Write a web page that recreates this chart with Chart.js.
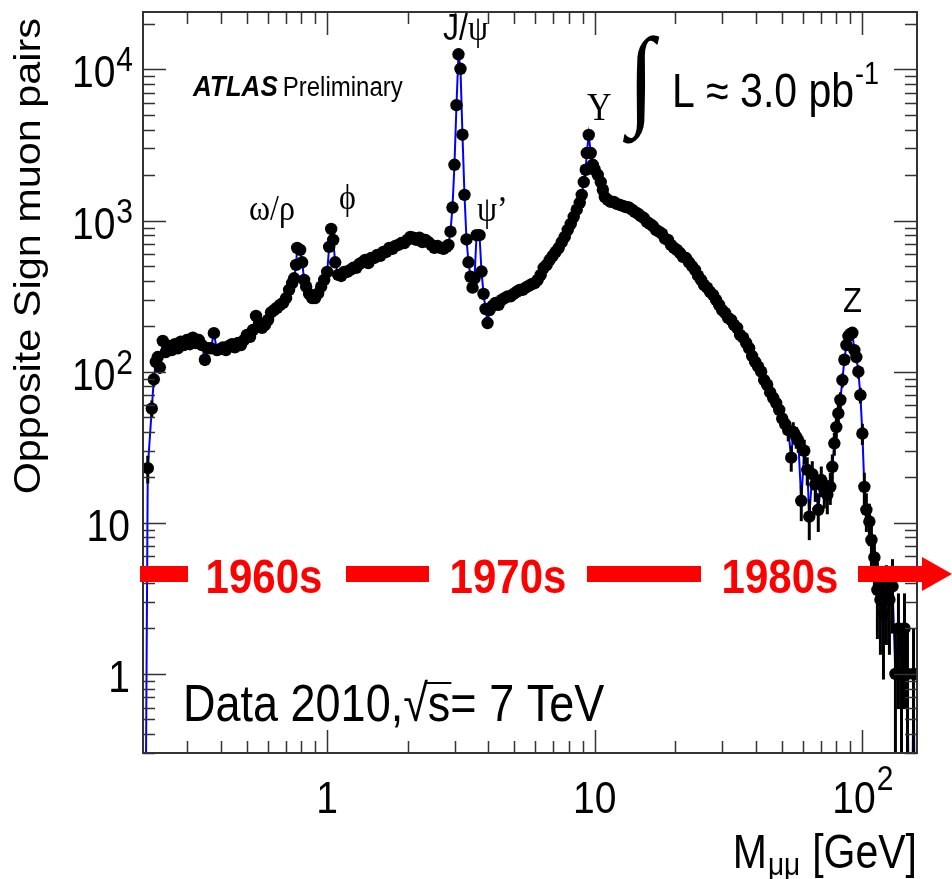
<!DOCTYPE html>
<html>
<head>
<meta charset="utf-8">
<script src="https://cdn.jsdelivr.net/npm/chart.js@4.4.0/dist/chart.umd.min.js"></script>
<style>
  html, body { margin: 0; padding: 0; background: #fff; }
  canvas { display: block; }
</style>
</head>
<body>
<canvas id="massChart" width="952" height="879"></canvas>
<script>
// Dimuon invariant mass bins [GeV]
const massBins = [
  0.208, 0.2136, 0.2211, 0.2250, 0.2289, 0.2328, 0.2369, 0.2430, 0.2495, 0.2560,
  0.2627, 0.2696, 0.2766, 0.2839, 0.2913, 0.2990, 0.3068, 0.3148, 0.3231, 0.3316,
  0.3403, 0.3492, 0.3583, 0.3677, 0.3773, 0.3873, 0.3974, 0.4078, 0.4185, 0.4295,
  0.4407, 0.4523, 0.4642, 0.4763, 0.4888, 0.5016, 0.5148, 0.5283, 0.5421, 0.5564,
  0.5709, 0.5859, 0.6013, 0.6170, 0.6332, 0.6498, 0.6668, 0.6843, 0.7023, 0.7207,
  0.7396, 0.7524, 0.7655, 0.7722, 0.7924, 0.8062, 0.8202, 0.8345, 0.8564, 0.8787,
  0.9017, 0.9253, 0.9495, 0.9745, 1.000, 1.0174, 1.0351, 1.0531, 1.0714, 1.0995,
  1.1283, 1.1579, 1.1882, 1.2194, 1.2514, 1.2842, 1.3178, 1.3524, 1.3878, 1.4242,
  1.4616, 1.4999, 1.5392, 1.5795, 1.6209, 1.6634, 1.7070, 1.7518, 1.7977, 1.8448,
  1.8931, 1.9428, 1.9937, 2.0459, 2.0996, 2.1544, 2.2110, 2.2690, 2.3280, 2.3890,
  2.4520, 2.5160, 2.5820, 2.6500, 2.7190, 2.7910, 2.8390, 2.8890, 2.9390, 2.9900,
  3.0420, 3.0950, 3.1490, 3.2030, 3.2590, 3.3160, 3.3740, 3.4330, 3.4930, 3.5530,
  3.6150, 3.7090, 3.7740, 3.8400, 3.9070, 3.9750, 4.0440, 4.1490, 4.2580, 4.3690,
  4.4840, 4.6010, 4.7220, 4.8450, 4.9720, 5.1040, 5.2380, 5.3760, 5.5170, 5.6610,
  5.8080, 5.9610, 6.1170, 6.2790, 6.4430, 6.6110, 6.7850, 6.9630, 7.1440, 7.3320,
  7.5240, 7.7210, 7.9240, 8.1310, 8.3430, 8.5620, 8.7860, 8.9390, 9.0950, 9.2530,
  9.3330, 9.4950, 9.6610, 9.8290, 10.00, 10.26, 10.53, 10.72, 10.90, 11.19,
  11.48, 11.78, 12.09, 12.41, 12.73, 13.07, 13.41, 13.76, 14.12, 14.49,
  14.87, 15.26, 15.66, 16.07, 16.49, 16.93, 17.37, 17.82, 18.29, 18.77,
  19.26, 19.77, 20.28, 20.82, 21.36, 21.92, 22.50, 23.08, 23.69, 24.31,
  24.95, 25.60, 26.27, 26.96, 27.67, 28.39, 29.14, 29.90, 30.68, 31.49,
  32.31, 33.16, 34.03, 34.92, 35.84, 36.78, 37.74, 38.73, 39.75, 40.79,
  41.86, 42.95, 44.08, 45.24, 46.42, 47.64, 48.89, 50.17, 51.49, 52.84,
  54.22, 55.17, 56.61, 57.60, 59.11, 60.66, 62.24, 63.33, 64.99, 66.68,
  68.43, 70.22, 72.06, 73.95, 75.88, 77.21, 78.56, 79.93, 81.32, 82.74,
  84.19, 85.65, 87.15, 88.67, 90.22, 91.73, 93.32, 94.95, 96.60, 98.29,
  100.0, 101.7, 103.5, 106.2, 108.1, 110.9, 113.8, 116.8, 119.9, 123.0,
  126.2, 129.6, 132.9, 136.4, 140.0, 143.7, 147.4, 151.3, 155.3, 159.3
];

// Opposite-sign muon pairs per bin (0.01 = empty bin, below the axis)
const muonPairs = [
  0.01, 23, 57, 89, 116, 125, 107, 160, 135, 148,
  139, 152, 143, 158, 150, 162, 152, 168, 155, 162,
  150, 120, 143, 143, 180, 139, 141, 145, 139, 148,
  152, 145, 155, 150, 162, 175, 170, 189, 234, 210,
  195, 204, 220, 247, 256, 265, 277, 285, 307, 348,
  385, 415, 509, 660, 640, 530, 405, 365, 327, 307,
  307, 330, 365, 405, 458, 670, 880, 745, 530, 437,
  430, 458, 458, 472, 487, 487, 516, 530, 549, 523,
  566, 566, 593, 585, 620, 620, 660, 650, 680, 690,
  710, 710, 745, 780, 770, 745, 770, 720, 745, 720,
  690, 660, 680, 660, 650, 670, 690, 845, 1220, 2340,
  5800, 12600, 10100, 3700, 1480, 750, 530, 425, 360, 415,
  800, 800, 460, 327, 260, 210, 256, 273, 285, 277,
  299, 307, 315, 315, 327, 338, 348, 348, 360, 370,
  380, 385, 405, 437, 487, 509, 549, 585, 620, 660,
  720, 780, 867, 950, 1060, 1180, 1310, 1480, 1800, 2170,
  2800, 3690, 2800, 2340, 2170, 2010, 1800, 1600, 1430, 1370,
  1330, 1330, 1290, 1270, 1250, 1230, 1220, 1180, 1140, 1110,
  1070, 1040, 980, 950, 920, 867, 845, 820, 760, 745,
  690, 660, 640, 610, 575, 565, 530, 500, 472, 432,
  405, 375, 360, 338, 322, 299, 277, 256, 245, 227,
  220, 204, 195, 175, 168, 155, 143, 127, 116, 108,
  100, 88, 82, 73, 67, 62, 56, 49, 45, 41,
  27, 40, 37, 35, 14, 30, 22.4, 11, 21, 18,
  12.2, 19.2, 16.5, 15.3, 17.3, 23.5, 33.6, 43, 53, 65,
  88, 120, 150, 172, 178, 181, 139, 125, 100, 70,
  39, 17.3, 12.2, 10.2, 7.7, 5.9, 3.6, 3.1, 2.5, 3.4,
  3.1, 3.8, 1.0, 2.0, 1.0, 2.0, 1.0, 0.01, 1.0, 0.01
];

// Labelled decades on each axis: [value, mantissa text, exponent text]
const xTickLabels = [[1, '1', ''], [10, '10', ''], [100, '10', '2']];
const yTickLabels = [[1, '1', ''], [10, '10', ''], [100, '10', '2'], [1000, '10', '3'], [10000, '10', '4']];
const eraLabels = ['1960s', '1970s', '1980s'];

const X_MIN = 0.205, X_MAX = 160;
const Y_MIN = 0.3, Y_MAX = 24000;
const STRETCH = 1.15;
const SANS = "'Liberation Sans', Arial, sans-serif";
const SERIF = "'Liberation Serif', 'Times New Roman', serif";

// text drawn slightly taller than wide, like the ROOT canvas export
function txt(ctx, str, x, y, font, opts = {}) {
  ctx.save();
  ctx.translate(x, y);
  ctx.scale(1, STRETCH);
  if (opts.rotate) ctx.rotate(opts.rotate);
  ctx.font = font;
  ctx.fillStyle = opts.color || '#000';
  ctx.textAlign = opts.align || 'left';
  ctx.textBaseline = 'alphabetic';
  ctx.fillText(str, 0, 0);
  const w = ctx.measureText(str).width;
  ctx.restore();
  return w;
}

function textWidth(ctx, str, font) {
  ctx.save();
  ctx.font = font;
  const w = ctx.measureText(str).width;
  ctx.restore();
  return w;
}

function decadeTicks(min, max) {
  const out = [];
  for (let e = -1; e <= 5; e++) {
    for (let m = 1; m <= 9; m++) {
      const v = m * Math.pow(10, e);
      if (v >= min && v <= max) out.push({ v, major: m === 1 });
    }
  }
  return out;
}

const rootFrame = {
  id: 'rootFrame',
  afterDatasetsDraw(chart) {
    const { ctx, chartArea: a, scales: { x, y } } = chart;

    // Poisson error bars
    ctx.save();
    ctx.beginPath();
    ctx.rect(a.left, a.top, a.right - a.left, a.bottom - a.top);
    ctx.clip();
    ctx.strokeStyle = '#000';
    ctx.lineWidth = 3;
    massBins.forEach((m, i) => {
      const n = muonPairs[i];
      if (n < 0.5) return;
      const err = Math.sqrt(n);
      const px = x.getPixelForValue(m);
      const top = y.getPixelForValue(n + err);
      const bot = n - err > 0.01 ? y.getPixelForValue(n - err) : a.bottom + 5;
      ctx.beginPath();
      ctx.moveTo(px, top);
      ctx.lineTo(px, bot);
      ctx.stroke();
    });
    ctx.restore();

    // frame and inward ticks on all four sides
    ctx.save();
    ctx.strokeStyle = '#333';
    ctx.lineWidth = 2;
    ctx.strokeRect(a.left, a.top, a.right - a.left, a.bottom - a.top);
    ctx.lineWidth = 1.5;
    ctx.beginPath();
    decadeTicks(X_MIN, X_MAX).forEach(t => {
      const px = Math.round(x.getPixelForValue(t.v)) + 0.5;
      const len = t.major ? 23 : 12;
      ctx.moveTo(px, a.bottom); ctx.lineTo(px, a.bottom - len);
      ctx.moveTo(px, a.top); ctx.lineTo(px, a.top + len);
    });
    decadeTicks(Y_MIN, Y_MAX).forEach(t => {
      const py = Math.round(y.getPixelForValue(t.v)) + 0.5;
      const len = t.major ? 23 : 12;
      ctx.moveTo(a.left, py); ctx.lineTo(a.left + len, py);
      ctx.moveTo(a.right, py); ctx.lineTo(a.right - len, py);
    });
    ctx.stroke();
    ctx.restore();

    // tick labels
    const base = '39px ' + SANS, sup = '30px ' + SANS;
    xTickLabels.forEach(([v, m, e]) => {
      const px = x.getPixelForValue(v);
      const wm = textWidth(ctx, m, base);
      const we = e ? textWidth(ctx, e, sup) : 0;
      const left = px - (wm + we) / 2;
      txt(ctx, m, left, 813, base);
      if (e) txt(ctx, e, left + wm + 1, 790, sup);
    });
    yTickLabels.forEach(([v, m, e]) => {
      const py = y.getPixelForValue(v);
      if (e) {
        txt(ctx, e, 133, py + 2, sup, { align: 'right' });
        txt(ctx, m, 133 - textWidth(ctx, e, sup) - 1, py + 18, base, { align: 'right' });
      } else {
        txt(ctx, m, 130, py + 18, base, { align: 'right' });
      }
    });
  },

  afterDraw(chart) {
    const { ctx } = chart;

    // axis titles
    txt(ctx, 'Opposite Sign muon pairs', 40, 18, '36px ' + SANS, { rotate: -Math.PI / 2, align: 'right' });
    let cx = 917 - textWidth(ctx, '[GeV]', '41px ' + SANS);
    txt(ctx, '[GeV]', cx, 868, '41px ' + SANS);
    const wMu = textWidth(ctx, 'μμ', '28px ' + SANS);
    txt(ctx, 'μμ', cx - 12 - wMu, 875, '28px ' + SANS);
    txt(ctx, 'M', cx - 12 - wMu - 1, 868, '41px ' + SANS, { align: 'right' });

    // experiment tag
    const wAtlas = txt(ctx, 'ATLAS', 193, 96, 'italic bold 26px ' + SANS);
    txt(ctx, 'Preliminary', 193 + wAtlas + 5, 96, '24px ' + SANS);

    // resonance names
    txt(ctx, 'ω/ρ', 249, 220, '32px ' + SERIF);
    txt(ctx, 'ϕ', 339, 209, '32px ' + SERIF);
    let jx = 443 + txt(ctx, 'J', 443, 40, '32px ' + SANS);
    jx += txt(ctx, '/', jx, 40, '32px ' + SANS);
    txt(ctx, 'ψ', jx, 40, '32px ' + SERIF);
    txt(ctx, 'ψ’', 477, 221, '32px ' + SERIF);
    txt(ctx, 'Υ', 587, 120, '34px ' + SERIF);
    txt(ctx, 'Z', 843, 312, '31px ' + SANS);

    // luminosity
    txt(ctx, '∫', 628, 114, 'bold 96px ' + SERIF);
    const wLum = txt(ctx, 'L ≈ 3.0 pb', 672, 107, '41px ' + SANS);
    txt(ctx, '-1', 672 + wLum + 1, 84, '27px ' + SANS);

    // run conditions
    const dfont = '45px ' + SANS;
    let dx = 183 + txt(ctx, 'Data 2010,', 183, 721, dfont);
    dx += txt(ctx, '√', dx, 721, dfont);
    const ws = txt(ctx, 's', dx, 721, dfont);
    ctx.save();
    ctx.strokeStyle = '#000';
    ctx.lineWidth = 2;
    ctx.beginPath();
    ctx.moveTo(dx - 2, 683);
    ctx.lineTo(dx + ws + 1, 683);
    ctx.stroke();
    ctx.restore();
    txt(ctx, '= 7 TeV', dx + ws, 721, dfont);

    // decade arrow across the plot
    ctx.save();
    ctx.fillStyle = '#ff0000';
    [[140, 188], [346, 429], [587, 701], [858, 923]].forEach(([a, b]) => ctx.fillRect(a, 566, b - a, 16));
    ctx.beginPath();
    ctx.moveTo(922, 557);
    ctx.lineTo(952, 574);
    ctx.lineTo(922, 591);
    ctx.closePath();
    ctx.fill();
    ctx.restore();
    const efont = 'bold 42px ' + SANS;
    [264, 508, 780].forEach((c, i) => txt(ctx, eraLabels[i], c, 593, efont, { align: 'center', color: '#ff0000' }));
  }
};

const points = massBins.map((m, i) => ({ x: m, y: muonPairs[i] }));

new Chart(document.getElementById('massChart'), {
  type: 'line',
  data: {
    datasets: [{
      data: points,
      borderColor: '#0000ff',
      borderWidth: 2,
      tension: 0,
      pointRadius: c => (c.raw && c.raw.y < Y_MIN ? 0 : 6.2),
      pointBackgroundColor: '#000',
      pointBorderColor: '#000',
      pointBorderWidth: 0,
      pointHoverRadius: 0
    }]
  },
  options: {
    responsive: false,
    animation: false,
    devicePixelRatio: 1,
    events: [],
    layout: { padding: { top: 12, right: 35, left: 0, bottom: 0 } },
    plugins: {
      legend: { display: false },
      tooltip: { enabled: false }
    },
    scales: {
      x: {
        type: 'logarithmic',
        min: X_MIN,
        max: X_MAX,
        grid: { display: false, drawTicks: false },
        border: { display: false },
        ticks: { display: false },
        afterFit: s => { s.height = 126; }
      },
      y: {
        type: 'logarithmic',
        min: Y_MIN,
        max: Y_MAX,
        grid: { display: false, drawTicks: false },
        border: { display: false },
        ticks: { display: false },
        afterFit: s => { s.width = 143; }
      }
    }
  },
  plugins: [rootFrame]
});
</script>
</body>
</html>
